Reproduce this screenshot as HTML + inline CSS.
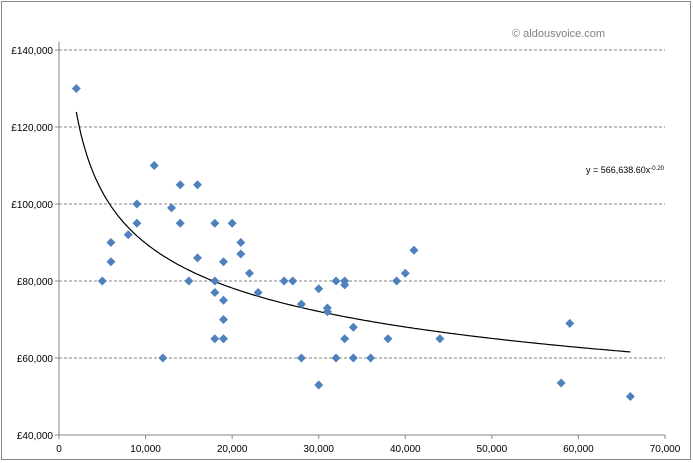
<!DOCTYPE html>
<html><head><meta charset="utf-8"><style>
body{margin:0;background:#fff;}
svg{display:block;font-family:"Liberation Sans",sans-serif;}
</style></head><body>
<svg id="chart" width="693" height="463" viewBox="0 0 693 463" xmlns="http://www.w3.org/2000/svg">
<rect x="1.5" y="1.5" width="689" height="458" fill="#fff" stroke="#868686"/>
<text x="512" y="37" font-size="11" fill="#808080">© aldousvoice.com</text>
<text x="586" y="173" font-size="9" fill="#000">y = 566,638.60x<tspan font-size="6" dy="-3">-0.20</tspan></text>
<g id="grid"></g><g id="axes"></g><g id="trend"></g><g id="pts"></g>
</svg>
<script>
const xs=[2000,5000,6000,6000,8000,9000,9000,11000,12000,13000,14000,14000,15000,16000,16000,18000,18000,18000,18000,19000,19000,19000,19000,20000,21000,21000,22000,23000,26000,27000,28000,28000,30000,30000,31000,31000,32000,32000,33000,33000,33000,34000,34000,36000,38000,39000,40000,41000,44000,58000,59000,66000];
const ys=[130000,80000,90000,85000,92000,100000,95000,110000,60000,99000,105000,95000,80000,105000,86000,95000,80000,77000,65000,85000,75000,70000,65000,95000,90000,87000,82000,77000,80000,80000,74000,60000,78000,53000,73000,72000,80000,60000,80000,79000,65000,68000,60000,60000,65000,80000,82000,88000,65000,53500,69000,50000];
const xTicks=[0,10000,20000,30000,40000,50000,60000,70000];
const yTicks=[40000,60000,80000,100000,120000,140000];
const trendA=566638.6, trendB=-0.2;
const NS="http://www.w3.org/2000/svg";
const X0=59,X1=665,Y0=435,Y1=50;
const sx=v=>X0+(v-0)/70000*(X1-X0);
const sy=v=>Y0-(v-40000)/100000*(Y0-Y1);
function mk(t,a,p){const e=document.createElementNS(NS,t);for(const k in a)e.setAttribute(k,a[k]);p.appendChild(e);return e;}
const grid=document.getElementById('grid'),axes=document.getElementById('axes');
yTicks.forEach(v=>{
 if(v>40000){const l=mk('line',{x1:X0,x2:X1,y1:sy(v),y2:sy(v),stroke:'#868686','stroke-dasharray':'3,2'},grid);
 
 }
 const tk=mk('line',{x1:X0-4,x2:X0,y1:sy(v),y2:sy(v),stroke:'#868686'},axes);
 
 
 const t=mk('text',{x:X0-6,y:sy(v)+4,'font-size':10,'text-anchor':'end',fill:'#000'},axes);
 
 
 t.textContent='£'+v.toLocaleString('en-US');
});
xTicks.forEach(v=>{
 const tk=mk('line',{x1:sx(v),x2:sx(v),y1:Y0,y2:Y0+4,stroke:'#868686'},axes);
 
 
 const t=mk('text',{x:sx(v),y:Y0+17,'font-size':10,'text-anchor':'middle',fill:'#000'},axes);
 
 
 t.textContent=v.toLocaleString('en-US');
});
const ya=mk('line',{x1:X0,x2:X0,y1:Y1-8,y2:Y0,stroke:'#868686'},axes);


const xa=mk('line',{x1:X0,x2:X1,y1:Y0,y2:Y0,stroke:'#868686'},axes);


let d='';
for(let x=2000;x<=66000;x+=250){d+=(d?'L':'M')+sx(x).toFixed(1)+','+sy(trendA*Math.pow(x,trendB)).toFixed(1);}
const tr=mk('path',{d:d,fill:'none',stroke:'#000','stroke-width':1.2},document.getElementById('trend'));


const pts=document.getElementById('pts');
xs.forEach((x,i)=>{
 const cx=sx(x),cy=sy(ys[i]);
 const p=mk('path',{d:`M${cx},${cy-4.5}L${cx+4.5},${cy}L${cx},${cy+4.5}L${cx-4.5},${cy}Z`,fill:'#4f81bd'},pts);
 
 
});
</script>
</body></html>
